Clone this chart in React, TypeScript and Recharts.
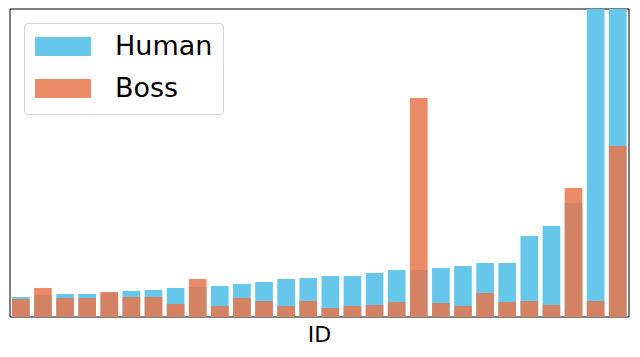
import React from "react";
import { BarChart, Bar, XAxis, YAxis, Legend, ReferenceArea } from "recharts";

const ids = Array.from({ length: 28 }, (_, i) => String(i + 1));
const human = [20, 22, 23, 23, 24, 26, 27, 29, 30, 31, 33, 35, 38, 39, 41, 41, 44, 47, 47, 49, 51, 54, 54, 81, 91, 114, 400, 400];
const boss = [18, 29, 19, 19, 25, 20, 20, 13, 38, 11, 19, 16, 11, 16, 9, 11, 12, 15, 219, 14, 11, 24, 15, 16, 12, 129, 16, 171];
const yMax = 308;

const data = ids.map((id, i) => ({ id, Human: human[i], Boss: boss[i] }));

const HUMAN_COLOR = "#67C7EA";
const BOSS_COLOR = "#E7764C";
const BOSS_OPACITY = 0.85;

const font = "'DejaVu Sans', sans-serif";

const PLOT_W = 619;
const BAR_SIZE = (PLOT_W / ids.length) * 0.8;

const LegendBox = () => (
  <div
    style={{
      width: 198,
      height: 90,
      border: "1px solid #d6d6d6",
      borderRadius: 4,
      background: "rgba(255,255,255,0.8)",
      position: "relative",
      fontFamily: font,
      fontSize: 27,
      color: "#000",
    }}
  >
    {[
      { name: "Human", color: HUMAN_COLOR, top: 13 },
      { name: "Boss", color: "#EA8A67", top: 55 },
    ].map((e) => (
      <div key={e.name}>
        <div style={{ position: "absolute", left: 10, top: e.top, width: 56, height: 19, background: e.color }} />
        <div style={{ position: "absolute", left: 90, top: e.top - 7, lineHeight: "32px", whiteSpace: "nowrap" }}>{e.name}</div>
      </div>
    ))}
  </div>
);

export default function App() {
  return (
    <div style={{ position: "absolute", left: 0, top: 0, width: 640, height: 357, background: "#fff" }}>
      <BarChart
        width={640}
        height={357}
        data={data}
        margin={{ top: 9, right: 11, left: 10, bottom: 0 }}
        barCategoryGap="20%"
        barGap={0}
      >
        <XAxis
          xAxisId="human"
          dataKey="id"
          type="category"
          height={40}
          tick={false}
          tickLine={false}
          axisLine={false}
          label={{ value: "ID", position: "insideBottom", offset: 15, fill: "#000", fontSize: 22, fontFamily: font }}
        />
        <XAxis xAxisId="boss" dataKey="id" type="category" orientation="top" height={0} hide />
        <YAxis yAxisId="l" domain={[0, yMax]} allowDataOverflow width={0} hide />
        <Legend
          layout="horizontal"
          verticalAlign="middle"
          align="center"
          wrapperStyle={{ left: 24, top: 23, width: 200, height: 92 }}
          content={() => <LegendBox />}
        />
        <Bar dataKey="Human" xAxisId="human" yAxisId="l" barSize={BAR_SIZE} fill={HUMAN_COLOR} isAnimationActive={false} />
        <Bar dataKey="Boss" xAxisId="boss" yAxisId="l" barSize={BAR_SIZE} fill={BOSS_COLOR} fillOpacity={BOSS_OPACITY} isAnimationActive={false} />
        <ReferenceArea
          xAxisId="human"
          yAxisId="l"
          y1={0}
          y2={yMax}
          fill="none"
          stroke="#000"
          strokeWidth={1}
          ifOverflow="visible"
        />
      </BarChart>
    </div>
  );
}
